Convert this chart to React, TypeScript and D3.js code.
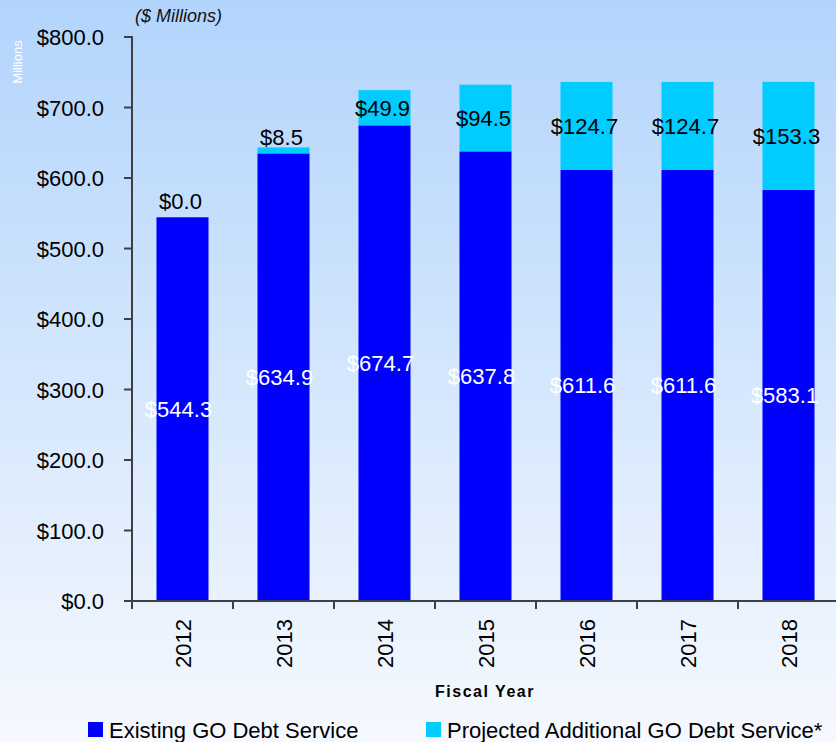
import React from "react";
import * as d3 from "d3";

const years = ["2012", "2013", "2014", "2015", "2016", "2017", "2018"];
const existing = [544.3, 634.9, 674.7, 637.8, 611.6, 611.6, 583.1];
const projected = [0.0, 8.5, 49.9, 94.5, 124.7, 124.7, 153.3];
const yTicks = [0, 100, 200, 300, 400, 500, 600, 700, 800];

const W = 836;
const H = 742;
const font = "Liberation Sans, Arial, sans-serif";

const App = () => {
  const x = d3.scaleBand().domain(years).range([132, 839]).paddingInner(0.485).paddingOuter(0.2425);
  const y = d3.scaleLinear().domain([0, 800]).range([601, 37]);
  const fmt = (v: number) => "$" + v.toFixed(1);
  const step = x.step();
  const bw = x.bandwidth();

  return (
    <svg width={W} height={H} style={{ position: "absolute", left: 0, top: 0 }}>
      <defs>
        <linearGradient id="bg" x1="0" y1="0" x2="0" y2="1">
          <stop offset="0%" stopColor="#b2d4fc" />
          <stop offset="100%" stopColor="#f6f9fe" />
        </linearGradient>
      </defs>
      <rect x={0} y={0} width={W} height={H} fill="url(#bg)" />

      <text x={135} y={22} fontFamily={font} fontSize={18} fontStyle="italic" fill="#111">
        ($ Millions)
      </text>
      <text
        transform="translate(22,62) rotate(-90)"
        textAnchor="middle"
        fontFamily={font}
        fontSize={13}
        fill="#ffffff"
      >
        Millions
      </text>

      {years.map((yr, i) => {
        const x0 = x(yr)!;
        const base = y(existing[i]);
        const top = y(existing[i] + projected[i]);
        const labY = Math.min((base + top) / 2, base - 16);
        return (
          <g key={yr}>
            <rect x={x0} y={base} width={bw} height={y(0) - base} fill="#0000ff" />
            <rect x={x0} y={top} width={bw} height={base - top} fill="#00ccff" />
            <text
              x={x0 + bw / 2 - 4}
              y={(y(0) + base) / 2 + 8}
              textAnchor="middle"
              fontFamily={font}
              fontSize={22}
              fill="#ffffff"
            >
              {fmt(existing[i])}
            </text>
            <text
              x={x0 + bw / 2 - 2}
              y={labY + 8}
              textAnchor="middle"
              fontFamily={font}
              fontSize={22}
              fill="#000"
            >
              {fmt(projected[i])}
            </text>
            <text
              transform={`translate(${x0 + bw / 2 + 8},619) rotate(-90)`}
              textAnchor="end"
              fontFamily={font}
              fontSize={22}
              fill="#000"
            >
              {yr}
            </text>
          </g>
        );
      })}

      <g stroke="#404040" strokeWidth={2}>
        <line x1={132} x2={132} y1={36} y2={602} />
        <line x1={124} x2={839} y1={601} y2={601} />
        {yTicks.map((t) => (
          <line key={t} x1={124} x2={132} y1={y(t)} y2={y(t)} />
        ))}
        {years.map((yr, i) => (
          <line key={yr} x1={132 + i * step} x2={132 + i * step} y1={601} y2={609} />
        ))}
      </g>
      {yTicks.map((t) => (
        <text
          key={t}
          x={104}
          y={y(t) + 8}
          textAnchor="end"
          fontFamily={font}
          fontSize={22}
          fill="#000"
        >
          {fmt(t)}
        </text>
      ))}

      <text
        x={485}
        y={697}
        textAnchor="middle"
        fontFamily={font}
        fontSize={16}
        fontWeight="bold"
        letterSpacing={1.5}
        fill="#000"
      >
        Fiscal Year
      </text>

      <rect x={88} y={722} width={15} height={15} fill="#0000ff" />
      <text x={109} y={738} fontFamily={font} fontSize={22} fill="#000">
        Existing GO Debt Service
      </text>
      <rect x={426} y={722} width={15} height={15} fill="#00ccff" />
      <text x={447} y={738} fontFamily={font} fontSize={22} fill="#000">
        Projected Additional GO Debt Service*
      </text>
    </svg>
  );
};

export default App;
